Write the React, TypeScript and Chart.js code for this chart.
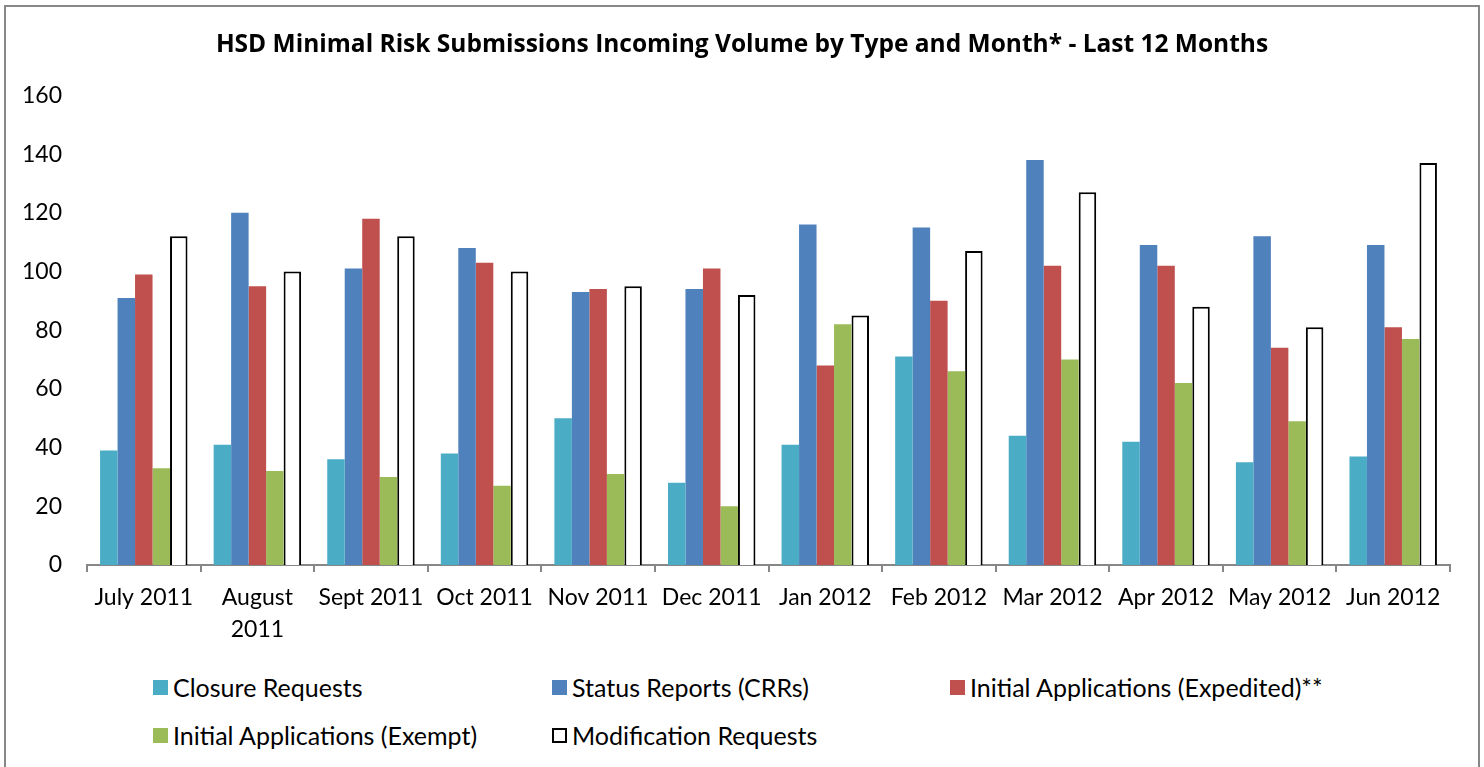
import React, { useEffect, useRef } from "react";
import { Chart, registerables } from "chart.js";

Chart.register(...registerables);

const months: (string | string[])[] = [
  "July 2011",
  ["August", "2011"],
  "Sept 2011",
  "Oct 2011",
  "Nov 2011",
  "Dec 2011",
  "Jan 2012",
  "Feb 2012",
  "Mar 2012",
  "Apr 2012",
  "May 2012",
  "Jun 2012",
];

const closureRequests = [39, 41, 36, 38, 50, 28, 41, 71, 44, 42, 35, 37];
const statusReports = [91, 120, 101, 108, 93, 94, 116, 115, 138, 109, 112, 109];
const initialExpedited = [99, 95, 118, 103, 94, 101, 68, 90, 102, 102, 74, 81];
const initialExempt = [33, 32, 30, 27, 31, 20, 82, 66, 70, 62, 49, 77];
const modificationRequests = [112, 100, 112, 100, 95, 92, 85, 107, 127, 88, 81, 137];

const seriesNames = [
  "Closure Requests",
  "Status Reports (CRRs)",
  "Initial Applications (Expedited)**",
  "Initial Applications (Exempt)",
  "Modification Requests",
];

const titleText = "HSD Minimal Risk Submissions Incoming Volume by Type and Month* - Last 12 Months";

const FONT = "Lato, 'Noto Sans', sans-serif";
const TITLE_FONT = "'Open Sans', Lato, sans-serif";

const fills = ["#4BACC6", "#4F81BD", "#C0504D", "#9BBB59", "#FFFFFF"];
const borders = ["#4BACC6", "#4F81BD", "#C0504D", "#9BBB59", "#000000"];

export default function App() {
  const ref = useRef<HTMLCanvasElement | null>(null);

  useEffect(() => {
    if (!ref.current) return;
    const values = [closureRequests, statusReports, initialExpedited, initialExempt, modificationRequests];
    const chart = new Chart(ref.current, {
      type: "bar",
      data: {
        labels: months,
        datasets: values.map((v, i) => ({
          label: seriesNames[i],
          data: v,
          backgroundColor: fills[i],
          borderColor: borders[i],
          borderWidth: i === 4 ? 2 : 0,
          categoryPercentage: 0.77,
          barPercentage: 1.0,
          yAxisID: "y",
        })),
      },
      options: {
        responsive: false,
        animation: false,
        maintainAspectRatio: false,
        layout: { padding: { left: 0, right: 0, top: 0, bottom: 0 } },
        plugins: {
          legend: { display: false },
          tooltip: { enabled: false },
          title: {
            display: true,
            text: titleText,
            color: "#000",
            font: { family: TITLE_FONT, size: 24.5, weight: "bold", lineHeight: 1.2 },
            padding: { top: 30, bottom: 36 },
          },
        },
        scales: {
          x: {
            grid: {
              display: true,
              offset: true,
              drawOnChartArea: false,
              drawTicks: true,
              tickLength: 7,
              color: "#878787",
              lineWidth: 2,
            },
            border: { display: true, color: "#878787", width: 2 },
            ticks: {
              color: "#000",
              font: { family: FONT, size: 23, lineHeight: 1.38 },
              padding: 10,
              maxRotation: 0,
              autoSkip: false,
            },
            afterFit: (scale: any) => {
              scale.height = 95;
            },
          },
          y: {
            position: "left",
            min: 0,
            max: 160,
            grid: { display: false, drawTicks: false },
            border: { display: false },
            ticks: {
              stepSize: 20,
              color: "#000",
              font: { family: FONT, size: 23 },
              padding: 25,
            },
            afterFit: (scale: any) => {
              scale.width = 87;
            },
          },
          spacer: {
            position: "right",
            display: true,
            min: 0,
            max: 160,
            grid: { display: false, drawTicks: false },
            border: { display: false },
            ticks: { display: false },
            afterFit: (scale: any) => {
              scale.width = 34;
            },
          },
        },
      },
    });
    return () => chart.destroy();
  }, []);

  const legendCols = [153, 552, 950];
  const legendRows = [687, 735];

  return (
    <div
      style={{
        position: "fixed",
        left: 0,
        top: 0,
        width: 1484,
        height: 767,
        background: "#fff",
        overflow: "hidden",
        fontFamily: FONT,
      }}
    >
      <div
        style={{
          position: "absolute",
          left: 4,
          top: 5,
          width: 1472,
          height: 820,
          border: "2px solid #878787",
        }}
      />
      <canvas
        ref={ref}
        width={1484}
        height={660}
        style={{ position: "absolute", left: 0, top: 0, width: 1484, height: 660 }}
      />
      {seriesNames.map((name, i) => {
        const col = i % 3;
        const row = Math.floor(i / 3);
        return (
          <div
            key={name}
            style={{
              position: "absolute",
              left: legendCols[col],
              top: legendRows[row] - 16,
              height: 32,
              display: "flex",
              alignItems: "center",
              whiteSpace: "nowrap",
              fontSize: 25,
              color: "#000",
            }}
          >
            <span
              style={{
                display: "inline-block",
                width: i === 4 ? 11 : 15,
                height: i === 4 ? 11 : 15,
                background: fills[i],
                border: i === 4 ? "2px solid #000" : "none",
                marginRight: 5,
              }}
            />
            <span>{name}</span>
          </div>
        );
      })}
    </div>
  );
}
